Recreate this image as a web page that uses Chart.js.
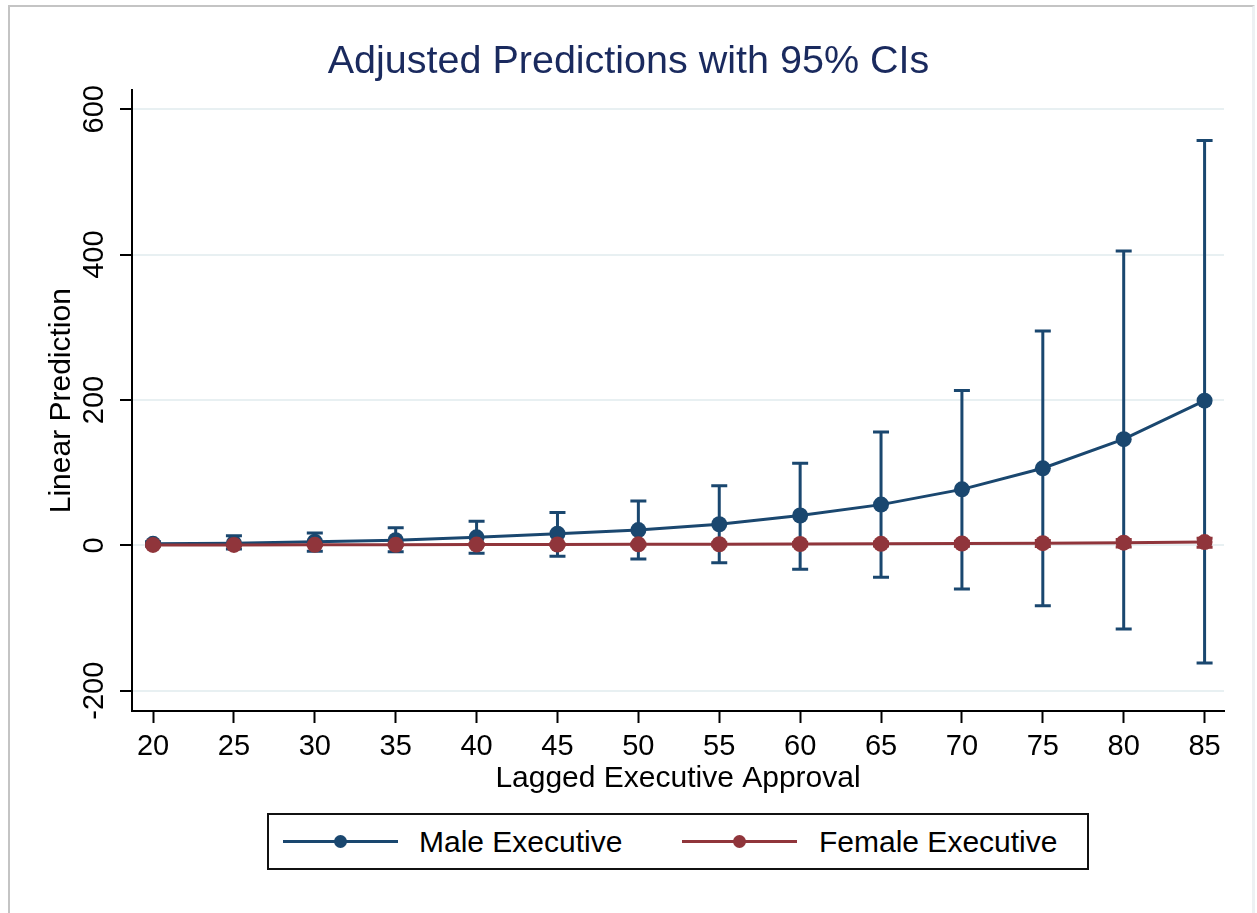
<!DOCTYPE html>
<html>
<head>
<meta charset="utf-8">
<title>Adjusted Predictions with 95% CIs</title>
<script src="https://cdn.jsdelivr.net/npm/chart.js@4.4.1/dist/chart.umd.min.js"></script>
<style>
  html, body { margin: 0; padding: 0; background: #fff; }
  body { width: 1257px; height: 913px; position: relative; overflow: hidden; font-family: "Liberation Sans", Arial, sans-serif; }
  #frame { position: absolute; left: 8px; top: 5px; width: 1242px; height: 920px;
           border-left: 2px solid #c4c4c4; border-top: 2px solid #c4c4c4; border-right: 3px solid #edf1f3; }
  #chart { position: absolute; left: 0; top: 0; }
  #legend { position: absolute; left: 267px; top: 813px; width: 818px; height: 53px; border: 2px solid #111; background: #fff; }
  #legend .key { position: absolute; top: 25px; width: 115px; height: 3px; }
  #legend .dot { position: absolute; left: 51px; top: -5px; width: 13px; height: 13px; border-radius: 50%; }
  #legend .txt { position: absolute; top: 0; line-height: 53px; font-size: 30px; color: #000; white-space: nowrap; }
</style>
</head>
<body>
<div id="frame"></div>
<canvas id="chart" width="1257" height="913"></canvas>
<div id="legend"></div>
<script>
const xValues = [20, 25, 30, 35, 40, 45, 50, 55, 60, 65, 70, 75, 80, 85];

// male executive: prediction and 95% CI
const maleFit  = [2, 3, 5, 7, 11, 16, 21, 29, 41, 56, 77, 106, 146, 199];
const maleLow  = [-1, -5, -8, -9, -11, -15, -19, -24, -33, -44, -60, -83, -115, -162];
const maleHigh = [5, 13, 17, 24, 33, 45, 61, 82, 113, 156, 213, 295, 405, 557];

// female executive: prediction and 95% CI
const femaleFit  = [0.5, 0.6, 0.7, 0.8, 1, 1.1, 1.3, 1.5, 1.8, 2.1, 2.5, 3, 3.6, 4.5];
const femaleLow  = [-0.6, -0.4, -0.3, -0.3, -0.3, -0.4, -0.5, -0.6, -0.8, -1, -1.3, -1.7, -2.2, -2.8];
const femaleHigh = [1.5, 1.6, 1.7, 1.9, 2.2, 2.5, 2.9, 3.4, 4, 4.7, 5.6, 6.7, 8, 9.8];

const xTicks = [20, 25, 30, 35, 40, 45, 50, 55, 60, 65, 70, 75, 80, 85];
const yTicks = [-200, 0, 200, 400, 600];

const blue = '#1a476f';
const red = '#90353b';
const fontFamily = '"Liberation Sans", Arial, sans-serif';

const ciSeries = [
    { color: blue, low: maleLow, high: maleHigh },
    { color: red, low: femaleLow, high: femaleHigh }
];

// draw the CI caps under the lines
const errorBars = {
    id: 'errorBars',
    beforeDatasetsDraw(chart) {
        const { ctx, scales: { x, y } } = chart;
        ciSeries.forEach(s => {
            ctx.save();
            ctx.strokeStyle = s.color;
            ctx.lineWidth = 3;
            xValues.forEach((v, i) => {
                const px = x.getPixelForValue(v);
                const lo = y.getPixelForValue(s.low[i]);
                const hi = y.getPixelForValue(s.high[i]);
                ctx.beginPath();
                ctx.moveTo(px, lo); ctx.lineTo(px, hi);
                ctx.moveTo(px - 8, lo); ctx.lineTo(px + 8, lo);
                ctx.moveTo(px - 8, hi); ctx.lineTo(px + 8, hi);
                ctx.stroke();
            });
            ctx.restore();
        });
    }
};

const toPoints = arr => xValues.map((x, i) => ({ x: x, y: arr[i] }));

const chart = new Chart(document.getElementById('chart').getContext('2d'), {
    type: 'line',
    data: {
        datasets: [{
            label: 'Male Executive',
            data: toPoints(maleFit),
            borderColor: blue,
            backgroundColor: blue,
            borderWidth: 3,
            pointRadius: 8,
            pointBorderWidth: 0,
            tension: 0,
            order: 1
        }, {
            label: 'Female Executive',
            data: toPoints(femaleFit),
            borderColor: red,
            backgroundColor: red,
            borderWidth: 3,
            pointRadius: 8,
            pointBorderWidth: 0,
            tension: 0,
            order: 0
        }]
    },
    options: {
        responsive: false,
        animation: false,
        layout: { padding: 0 },
        plugins: {
            legend: { display: false },
            tooltip: { enabled: false },
            title: {
                display: true,
                text: 'Adjusted Predictions with 95% CIs',
                color: '#1a2a5e',
                font: { family: fontFamily, size: 39.5, weight: 'normal' },
                padding: { top: 38, bottom: 5 }
            }
        },
        scales: {
            x: {
                type: 'linear',
                min: 18.7,
                max: 86.2,
                afterBuildTicks: s => { s.ticks = xTicks.map(v => ({ value: v })); },
                afterFit: s => { s.height = 202; },
                grid: { drawOnChartArea: false, tickLength: 12, tickWidth: 2, tickColor: '#000' },
                border: { color: '#000', width: 2 },
                ticks: { color: '#000', font: { family: fontFamily, size: 29 }, padding: 7, maxRotation: 0, autoSkip: false },
                title: {
                    display: true,
                    text: 'Lagged Executive Approval',
                    color: '#000',
                    font: { family: fontFamily, size: 30 },
                    padding: { top: 0, bottom: 116 }
                }
            },
            y: {
                min: -228,
                max: 626,
                afterBuildTicks: s => { s.ticks = yTicks.map(v => ({ value: v })); },
                afterFit: s => { s.width = 132; },
                grid: { color: '#e8f0f2', lineWidth: 2, tickLength: 12, tickWidth: 2, tickColor: '#000' },
                border: { color: '#000', width: 2 },
                ticks: {
                    color: '#000',
                    font: { family: fontFamily, size: 29 },
                    minRotation: 90,
                    maxRotation: 90,
                    crossAlign: 'center',
                    padding: -4,
                    autoSkip: false
                },
                title: {
                    display: true,
                    text: 'Linear Prediction',
                    color: '#000',
                    font: { family: fontFamily, size: 30 },
                    padding: { top: 44, bottom: 0 }
                }
            },
            // empty margin on the right of the plot, keeps the title centred on the whole graph
            yRight: {
                position: 'right',
                min: -228,
                max: 626,
                afterFit: s => { s.width = 33; },
                grid: { display: false, drawTicks: false },
                border: { display: false },
                ticks: { display: false }
            }
        }
    },
    plugins: [errorBars]
});

// legend box like the Stata one: line with a marker, then the label
const legendPos = [{ key: 14, txt: 150 }, { key: 413, txt: 550 }];
const legend = document.getElementById('legend');
chart.data.datasets.forEach((ds, i) => {
    const key = document.createElement('div');
    key.className = 'key';
    key.style.left = legendPos[i].key + 'px';
    key.style.background = ds.borderColor;
    const dot = document.createElement('div');
    dot.className = 'dot';
    dot.style.background = ds.borderColor;
    key.appendChild(dot);
    const txt = document.createElement('div');
    txt.className = 'txt';
    txt.style.left = legendPos[i].txt + 'px';
    txt.textContent = ds.label;
    legend.appendChild(key);
    legend.appendChild(txt);
});
</script>
</body>
</html>
